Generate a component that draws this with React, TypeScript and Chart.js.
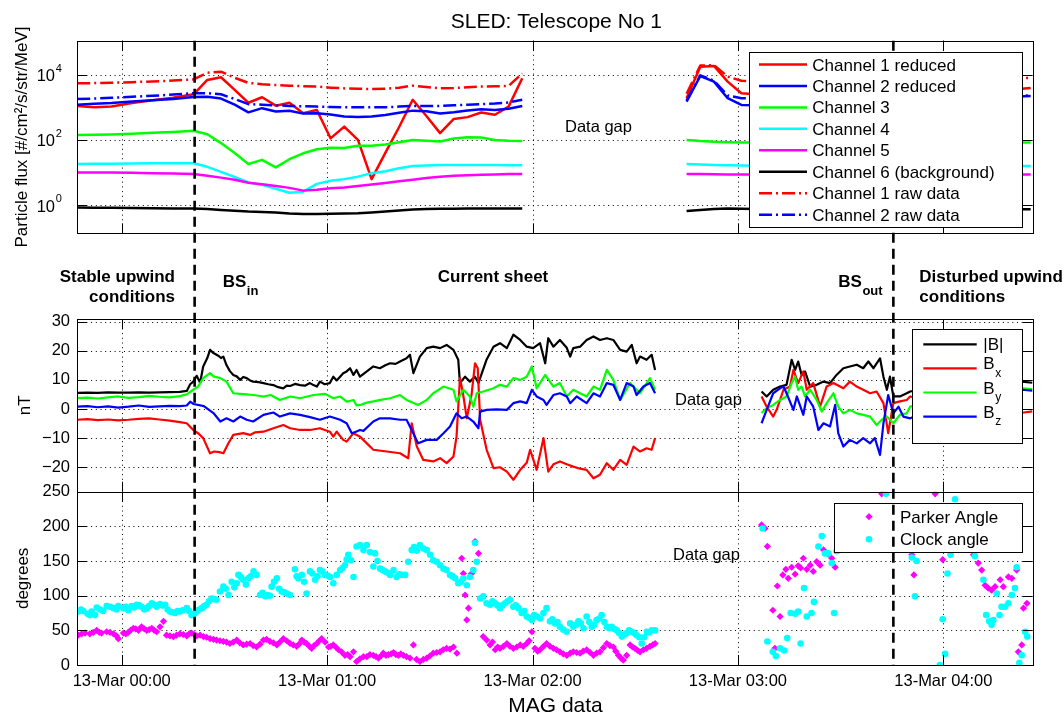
import React, { useEffect, useRef } from 'react';
import { Chart, registerables } from 'chart.js';

Chart.register(...registerables);

const FONT = '"Liberation Sans", Arial, Helvetica, sans-serif';
const W = 1064;
const H = 717;
const PLOT_LEFT = 77;
const PLOT_RIGHT = 1032.7;
const TICK_LEN = 10;
const TIME_AXIS_HEIGHT = 40;

// ---- shared time axis (minutes after 13-Mar 00:00) ----
const timeRange = [-13.06, 266.1];
const hourTicks = [0, 60, 120, 180, 240];
const hourLabels = ['13-Mar 00:00', '13-Mar 01:00', '13-Mar 02:00', '13-Mar 03:00', '13-Mar 04:00'];
const boundaryTimes = [21.3, 225.4]; // bow shock inbound / outbound

// vertical placement of the three panels [top, bottom] in px
const fluxBand = [40.7, 233.3];
const magBand = [319, 491.7];
const angleBand = [491.7, 665];

// ---- SLED telescope 1 fluxes ----
const fluxRange = [0.138, 109650];
const fluxTicks = [1, 100, 10000];
const fluxTimesA = [-13, -8, -3, 3, 9, 15, 21, 25, 29, 33, 37, 41, 45, 49, 53, 57, 61, 65, 69, 73, 77, 81, 85, 89, 93, 97, 101, 105, 109, 113, 117];
const fluxTimesB = [165, 169, 173, 177, 181, 185, 190, 200, 210, 220, 230, 240, 250, 260, 265.5];

const ch1ReducedA = [1100, 1000, 1050, 1350, 1650, 1950, 2500, 6900, 8300, 3400, 1380, 2030, 1120, 1380, 660, 830, 112, 256, 100, 6.3, 40, 245, 1700, 540, 162, 440, 500, 690, 590, 1050, 7760];
const ch1ReducedB = [1900, 17600, 18500, 6100, 2700, 2500, 2400, 2400, 2500, 2600, 2800, 3000, 3200, 3500, 3900];
const ch2ReducedA = [1200, 1280, 1350, 1500, 1650, 1800, 2050, 2100, 1850, 1200, 700, 940, 740, 780, 640, 660, 600, 520, 500, 520, 580, 680, 790, 760, 650, 700, 800, 870, 820, 900, 1100];
const ch2ReducedB = [1490, 9100, 6100, 1900, 1180, 1150, 1150, 1200, 1300, 1400, 1600, 1800, 2000, 2100, 2200];
const ch3A = [142, 145, 148, 155, 165, 175, 190, 150, 80, 40, 18.4, 24.5, 14.4, 25.7, 39, 52, 58, 57, 66, 66, 72, 85, 100, 95, 89, 110, 120, 118, 100, 95, 93];
const ch3B = [100, 92, 88, 85, 83, 84, 85, 85, 85, 85, 85, 84, 84, 83, 83];
const ch4A = [18.4, 18.6, 18.8, 19, 19.2, 19.3, 19.4, 15, 10.5, 7.3, 5, 4.2, 3.2, 2.4, 2.6, 4.5, 5.6, 6.3, 7.5, 9.6, 11, 13.5, 16, 16.5, 17, 17, 17, 17, 17, 16.8, 16.7];
const ch4B = [18.4, 17.8, 17.2, 16.8, 16.5, 16.3, 16.3, 16.2, 16.2, 16.1, 16.1, 16, 16, 16, 16];
const ch5A = [10, 10, 10, 9.8, 9.6, 9.4, 9.1, 8.0, 7.0, 6.0, 4.9, 4.4, 3.9, 3.4, 2.8, 3.0, 3.3, 3.5, 3.9, 4.3, 4.8, 5.4, 6.0, 6.8, 7.5, 8.0, 8.3, 8.6, 8.8, 9.0, 9.1];
const ch5B = [9.1, 9.0, 8.9, 8.8, 8.8, 8.7, 8.7, 8.7, 8.7, 8.7, 8.7, 8.7, 8.7, 8.7, 8.7];
const ch6A = [0.85, 0.84, 0.83, 0.82, 0.81, 0.8, 0.8, 0.76, 0.72, 0.68, 0.64, 0.62, 0.6, 0.56, 0.54, 0.54, 0.55, 0.56, 0.57, 0.6, 0.64, 0.69, 0.74, 0.77, 0.78, 0.78, 0.79, 0.79, 0.79, 0.79, 0.79];
const ch6B = [0.67, 0.72, 0.76, 0.79, 0.78, 0.77, 0.76, 0.76, 0.76, 0.76, 0.76, 0.76, 0.75, 0.75, 0.75];
const ch1RawA = [5450, 5500, 5650, 5900, 6200, 6600, 7200, 11500, 12300, 8000, 5600, 5100, 4800, 4600, 4400, 4300, 4000, 3800, 3700, 3600, 3700, 4000, 4600, 4200, 3800, 3900, 4100, 4300, 4400, 4500, 11000];
const ch1RawB = [2600, 19000, 19500, 8700, 6500, 6100, 6000, 6000, 6200, 6400, 6700, 7000, 7300, 7600, 7900];
const ch2RawA = [1800, 1850, 1950, 2100, 2250, 2450, 2700, 2700, 2500, 1800, 1250, 1200, 1150, 1100, 1080, 1050, 1020, 1000, 1000, 1000, 1000, 1050, 1100, 1100, 1100, 1150, 1200, 1250, 1300, 1400, 1700];
const ch2RawB = [1600, 9500, 6500, 2300, 1900, 1850, 1800, 1800, 1850, 1900, 2000, 2100, 2200, 2250, 2300];

// ---- MAG field components [minute, nT] ----
const magRange = [-28.4, 30.9];
const magTicks = [-20, -10, 0, 10, 20, 30];

const bTotal1 = [[-13, 5.5], [-10, 5.6], [-7, 5.5], [-4, 5.7], [-1, 5.6], [2, 5.6], [5, 5.7], [8, 5.6], [11, 5.7], [14, 5.8], [17, 5.9], [19, 6.2], [20, 8.5], [20.9, 9.4], [21.9, 11.4], [22.9, 9.0], [23.8, 14.6], [25, 17.5], [25.8, 20.3], [26.8, 19.2], [28.2, 18.3], [29, 17.5], [29.7, 18.0], [30.6, 15.1], [31.6, 13.0], [32.6, 11.7], [33.6, 11.2], [34.6, 10.0], [35.5, 11.0], [36.5, 10.6], [37.5, 9.8], [38.4, 9.4], [40, 9.2], [41.4, 8.9], [42.8, 8.5], [44.3, 8.2], [45.7, 7.5], [47.2, 7.1], [48.2, 8.0], [49.2, 7.9], [50.6, 8.6], [52.1, 8.2], [53.5, 8.0], [55, 8.9], [56, 8.2], [57, 7.7], [57.9, 9.4], [59.3, 8.5], [60.8, 8.9], [61.8, 11.1], [62.8, 9.8], [64.7, 12.3], [65.7, 12.9], [66.7, 14.0], [67.7, 11.7], [68.6, 13.4], [69.6, 11.1], [71.6, 12.9], [73.5, 14.6], [75.4, 14.0], [77, 15.0], [78.4, 15.7], [80, 15.5], [81.3, 16.3], [83.2, 17.4], [84.2, 18.6], [85.2, 12.3], [87.1, 18.0], [89.1, 20.9], [91, 21.4], [93, 20.9], [94.9, 22.0], [96.9, 20.3], [98.3, 16.9], [98.8, 8.9], [100.3, 11.1], [101.7, 9.4], [103.2, 11.1], [104.2, 8.9], [105.2, 12.3], [106.6, 17.0], [108.6, 21.4], [110.5, 22.6], [112.5, 20.9], [114.4, 25.5], [116.4, 23.7], [118.3, 21.4], [120.2, 20.9], [122.2, 22.6], [123.7, 15.7], [124.6, 24.3], [126.1, 21.4], [128, 23.7], [130, 21.0], [131, 18.0], [131.9, 20.9], [133.9, 21.4], [135.8, 23.7], [137.8, 24.9], [139.7, 23.7], [141.7, 24.3], [143.6, 23.7], [145.6, 20.3], [147.5, 19.7], [149, 22.0], [150.4, 15.7], [151.4, 18.0], [153.3, 16.9], [154.8, 18.6], [155.8, 13.4]];
const bTotal2 = [[186.9, 6.0], [188.4, 4.3], [190.3, 6.6], [192.3, 7.7], [194.2, 8.3], [195.7, 16.9], [196.7, 13.4], [197.6, 16.3], [198.6, 11.7], [199.6, 12.9], [201.1, 7.7], [203.0, 8.3], [205.0, 9.4], [206.9, 8.9], [208.8, 11.7], [210.8, 14.0], [212.7, 14.6], [214.7, 15.2], [216.6, 14.0], [218.1, 16.3], [219.6, 14.0], [221.5, 17.4], [222.5, 11.1], [223.5, 6.6], [224.4, 11.1], [225.4, 4.3], [227.3, 4.3], [229.3, 5.4], [230.3, 6.0], [235, 7.0], [240, 8.0], [245, 7.2], [250, 8.1], [255, 9.0], [260, 9.8], [263, 9.4], [266, 9.0]];

const bx1 = [[-13, -3.7], [-10, -3.5], [-7, -3.8], [-4, -3.6], [-1, -3.9], [2, -3.7], [5, -3.4], [8, -3.2], [11, -3.6], [14, -4.0], [17, -4.5], [19, -4.9], [20.9, -7.2], [22.5, -8.5], [23.8, -10.0], [25.8, -15.2], [27.0, -14.6], [28.5, -14.8], [29.7, -15.2], [31.2, -11.7], [32.6, -8.9], [35.5, -8.3], [37.5, -8.9], [39.0, -8.0], [41.4, -7.8], [44.3, -6.6], [47.2, -5.5], [49.2, -6.6], [52.1, -7.2], [55.0, -7.2], [57.9, -6.6], [60.8, -7.8], [61.8, -9.5], [62.8, -7.8], [64.7, -10.6], [65.7, -11.2], [67.7, -8.3], [69.6, -9.5], [71.6, -11.8], [73.5, -14.0], [77.4, -14.6], [81.3, -15.2], [83.7, -16.9], [84.7, -4.9], [86.2, -12.9], [88.1, -17.5], [91.0, -18.0], [93.0, -16.9], [94.9, -18.6], [96.9, -16.3], [97.8, -9.5], [98.8, 10.6], [99.6, 6.0], [100.8, -3.2], [102.2, 5.0], [103.2, 15.7], [104.0, 14.0], [104.7, -3.7], [106.6, -14.0], [108.6, -20.3], [110.5, -20.0], [112.5, -21.5], [114.4, -24.3], [116.4, -20.9], [118.3, -18.5], [119.3, -14.0], [121.2, -20.9], [123.2, -10.0], [124.6, -21.5], [126.1, -19.0], [128.0, -18.0], [130.0, -19.0], [131.9, -19.8], [133.9, -20.5], [135.8, -20.9], [137.8, -23.8], [139.7, -22.6], [141.7, -18.6], [143.6, -20.9], [145.6, -17.5], [147.5, -19.2], [149.5, -12.9], [151.4, -14.6], [153.3, -13.5], [154.8, -14.0], [155.8, -10.0]];
const bx2 = [[186.9, 4.3], [188.4, 0.8], [190.3, -2.6], [191.3, -0.3], [193.3, 6.6], [195.2, 7.7], [196.2, 13.4], [197.6, 8.9], [199.1, 12.9], [200.1, 6.6], [202.0, 8.9], [204.0, 0.8], [205.9, 7.7], [207.9, 8.9], [210.8, 7.1], [212.7, 9.4], [214.7, 7.7], [216.6, 6.6], [218.6, 5.4], [220.5, 6.0], [222.5, 2.0], [223.9, -8.3], [225.4, 2.0], [227.3, 2.6], [229.3, 3.1], [230.3, 4.3], [235, 3.0], [240, 2.0], [245, 1.0], [250, 0.0], [255, -1.0], [260, -1.8], [263, -1.3], [266, -0.8]];

const by1 = [[-13, 3.7], [-10, 3.9], [-7, 3.6], [-4, 4.0], [-1, 4.3], [2, 3.8], [5, 4.1], [8, 4.5], [11, 4.2], [14, 4.0], [17, 4.4], [19, 5.0], [20.9, 6.6], [22.3, 7.7], [23.8, 10.6], [25.8, 12.3], [26.8, 11.2], [28.8, 10.6], [30.6, 9.4], [32.6, 5.4], [34.6, 5.2], [36.5, 5.0], [38.4, 4.8], [41.4, 4.3], [43.5, 4.8], [46.2, 3.1], [49.2, 4.3], [52.1, 3.7], [56.0, 4.8], [59.4, 5.2], [61.8, 3.7], [63.8, 4.3], [65.7, 2.5], [67.7, 3.1], [68.6, 1.2], [70.0, 1.5], [71.6, 2.2], [73.5, 2.6], [76.0, 3.2], [78.4, 3.7], [81.3, 4.8], [83.2, 3.1], [86.6, 1.4], [89.1, 3.1], [91.0, 5.4], [94.0, 7.7], [96.9, 6.6], [97.8, 2.6], [99.8, 6.6], [101.7, 4.3], [102.7, 0.8], [103.7, 5.4], [105.6, 6.0], [108.6, 7.1], [110.5, 8.3], [112.5, 7.7], [114.4, 10.6], [116.4, 10.0], [118.3, 11.1], [119.8, 14.6], [121.2, 7.1], [123.7, 11.7], [126.1, 7.7], [128.0, 8.9], [130.0, 4.3], [131.9, 6.6], [133.9, 5.4], [135.8, 4.3], [137.8, 7.7], [139.7, 6.6], [141.7, 13.4], [143.6, 10.0], [145.6, 3.1], [148.5, 8.9], [151.4, 5.4], [154.3, 10.6], [155.8, 6.6]];
const by2 = [[186.9, -1.4], [188.4, 0.3], [190.3, 1.4], [192.3, 3.1], [194.2, 4.3], [195.7, 8.9], [196.7, 11.1], [197.6, 6.6], [198.6, 7.7], [199.6, 4.3], [201.1, 6.6], [203.0, 3.1], [204.5, -0.9], [205.9, 2.0], [207.9, 5.4], [209.3, 0.8], [210.8, -1.5], [212.7, -0.3], [214.7, -1.5], [216.6, -2.0], [218.6, -2.6], [220.5, -5.5], [222.0, -3.7], [223.5, -2.6], [225.4, -4.9], [227.3, -2.0], [229.3, -1.5], [230.3, 0.8], [235, 2.0], [240, 3.0], [245, 4.0], [250, 5.0], [255, 6.0], [260, 6.5], [263, 7.1], [266, 6.8]];

const bz1 = [[-13, 0.8], [-10, 1.0], [-7, 0.6], [-4, 0.9], [-1, 0.5], [2, 0.8], [5, 1.2], [8, 0.7], [11, 0.9], [14, 1.1], [17, 1.0], [19, 1.2], [20.0, 2.5], [21.0, 1.7], [24.0, 1.0], [26.8, -1.4], [28.8, -4.3], [30.6, -3.2], [32.6, -4.3], [34.6, -2.6], [36.5, -3.7], [38.4, -4.3], [41.4, -2.0], [44.3, -1.2], [46.2, -2.6], [49.2, -1.5], [52.1, -2.0], [55.0, -2.8], [57.9, -3.7], [60.8, -2.6], [63.8, -3.7], [65.7, -4.9], [67.2, -8.3], [68.6, -7.7], [69.6, -7.2], [70.6, -7.5], [73.5, -4.3], [75.4, -3.2], [78.4, -3.2], [81.3, -3.7], [83.2, -3.7], [84.7, -7.2], [86.6, -11.8], [89.1, -10.6], [92.0, -10.6], [94.0, -8.3], [95.9, -6.0], [97.8, -1.5], [99.3, -3.2], [100.8, -2.6], [102.7, -4.3], [104.2, -6.6], [104.7, -0.9], [106.6, -0.3], [109.5, -0.1], [112.5, -0.3], [114.4, 2.0], [116.4, 2.6], [118.3, 2.0], [119.8, 6.6], [121.2, 4.3], [123.2, 3.1], [124.1, 1.4], [126.1, 4.8], [128.0, 5.4], [130.0, 4.3], [131.0, 2.0], [132.9, 4.3], [135.8, 2.0], [137.8, 5.4], [139.7, 4.3], [141.7, 8.9], [143.6, 8.3], [145.6, 3.1], [147.5, 8.9], [149.5, 7.7], [150.4, 4.8], [152.4, 7.7], [154.3, 8.9], [155.8, 5.4]];
const bz2 = [[186.9, -4.9], [188.4, -0.3], [190.3, 5.4], [192.3, 7.1], [193.3, 7.7], [194.2, 5.4], [196.2, -0.3], [197.2, 4.3], [199.1, -2.0], [200.1, 4.3], [202.0, 0.8], [203.5, -7.2], [205.0, -4.9], [206.9, -6.0], [208.4, 1.4], [209.3, -8.3], [210.8, -12.9], [212.7, -10.6], [214.7, -11.8], [216.6, -10.0], [218.6, -11.8], [220.0, -10.0], [221.5, -15.8], [222.5, -4.9], [223.9, 4.8], [225.4, -1.5], [226.9, 0.8], [228.3, -2.6], [230.3, -3.2], [235, -1.0], [240, 1.0], [245, 3.0], [250, 4.0], [255, 5.0], [260, 6.0], [263, 6.6], [266, 6.3]];

// ---- field angles [minute, degrees] ----
const angleRange = [0, 250];
const angleTicks = [0, 50, 100, 150, 200, 250];

const parkerAngle = [[-12.7, 43], [-11.7, 45], [-10.7, 46], [-9.3, 45], [-8.3, 47], [-7.3, 50], [-6.5, 47], [-5.9, 46], [-4.4, 48], [-3.4, 47], [-2.4, 45], [-1.5, 42], [-1.0, 38], [0.5, 46], [1.2, 45], [1.9, 47], [2.6, 50], [3.4, 53], [4.1, 52], [4.9, 50], [5.8, 55], [6.6, 52], [7.3, 50], [8.0, 51], [8.8, 53], [9.5, 50], [10.2, 48], [11.2, 55], [12.2, 63], [13.1, 43], [14.1, 42], [15.1, 41], [16.0, 43], [17.0, 45], [18.0, 44], [19.0, 42], [19.7, 45], [20.4, 46], [21.2, 44], [21.9, 42], [22.9, 43], [23.9, 41], [24.8, 40], [25.8, 38], [26.8, 37], [27.7, 36], [28.7, 35], [29.7, 34], [30.6, 33], [31.6, 31], [32.6, 33], [33.6, 36], [34.5, 32], [35.5, 29], [36.5, 30], [37.5, 31], [38.4, 28], [39.4, 26], [40.4, 30], [41.4, 36], [42.3, 37], [43.3, 34], [44.3, 32], [45.3, 29], [46.2, 33], [47.2, 38], [48.2, 35], [49.2, 31], [50.1, 29], [51.1, 27], [51.8, 30], [52.6, 36], [53.3, 33], [54.0, 31], [54.8, 27], [55.5, 24], [56.2, 28], [57.0, 31], [57.7, 35], [58.4, 38], [59.4, 33], [60.4, 26], [61.1, 27], [61.8, 29], [62.5, 26], [63.3, 22], [64.2, 19], [65.2, 14], [66.0, 15], [66.7, 12], [67.7, 19], [68.6, 5], [69.6, 9], [70.6, 12], [71.6, 12], [72.5, 15], [73.5, 14], [74.3, 12], [75.0, 10], [75.7, 13], [76.4, 17], [77.2, 14], [77.9, 15], [78.7, 16], [79.4, 18], [80.1, 15], [80.8, 14], [81.5, 16], [82.3, 14], [83.2, 12], [84.2, 10], [85.2, 29], [86.1, 8], [87.1, 5], [88.1, 8], [89.1, 10], [90.0, 13], [91.0, 17], [92.0, 18], [93.0, 19], [93.9, 22], [94.9, 24], [95.9, 23], [96.9, 26], [97.9, 17], [99.3, 154], [99.8, 132], [100.3, 101], [100.8, 65], [101.3, 82], [102.2, 132], [103.2, 178], [104.2, 161], [105.6, 41], [106.6, 36], [107.6, 29], [108.3, 33], [109.1, 22], [109.8, 26], [110.5, 24], [111.5, 27], [112.5, 31], [113.4, 27], [114.4, 24], [115.4, 26], [116.4, 29], [117.3, 27], [118.3, 31], [119.0, 35], [119.8, 48], [120.7, 24], [121.5, 20], [122.2, 22], [123.2, 27], [124.1, 31], [125.1, 27], [126.1, 24], [127.0, 22], [128.0, 19], [129.0, 16], [130.0, 14], [131.0, 17], [131.9, 19], [132.9, 18], [133.9, 17], [134.8, 20], [135.8, 22], [136.8, 18], [137.8, 14], [138.7, 17], [139.7, 19], [140.7, 25], [141.7, 31], [142.6, 28], [143.6, 26], [144.3, 20], [145.1, 14], [145.8, 10], [146.5, 7], [147.5, 14], [148.5, 29], [149.2, 26], [149.9, 24], [150.7, 21], [151.4, 19], [152.4, 22], [153.3, 24], [154.3, 27], [155.1, 29], [155.8, 31],
  [186.9, 202], [187.9, 197], [188.6, 171], [190.2, 79], [190.8, 24], [191.5, 114], [192.3, 70], [193.1, 130], [194.0, 138], [194.7, 125], [195.7, 141], [196.7, 131], [197.6, 143], [198.3, 140], [199.1, 154], [200.1, 138], [201.1, 144], [202.0, 135], [203.0, 149], [204.0, 144], [205.0, 166], [206.4, 160], [207.4, 154], [208.4, 141], [222.0, 247], [230.8, 159], [231.4, 130], [237.6, 247], [239.8, 152], [248.8, 159], [250.2, 147], [251.2, 137], [252.2, 115], [253.1, 111], [254.1, 108], [255.1, 113], [256.6, 123], [257.5, 113], [259.0, 127], [260.0, 125], [261.4, 137], [261.9, 19], [262.9, 29], [263.4, 82], [264.4, 89]];

const clockAngle = [[-12.7, 77], [-11.9, 80], [-11.2, 78], [-10.0, 74], [-9.3, 72], [-8.8, 77], [-7.8, 72], [-7.3, 83], [-6.3, 80], [-5.4, 78], [-4.4, 85], [-3.4, 84], [-2.4, 82], [-1.5, 80], [-1.0, 85], [0.5, 82], [1.2, 84], [1.9, 79], [2.9, 85], [3.6, 83], [4.4, 87], [5.1, 86], [5.8, 84], [6.6, 80], [7.3, 82], [8.0, 85], [8.8, 89], [9.5, 87], [10.2, 84], [11.2, 88], [11.9, 86], [12.7, 87], [13.4, 80], [14.1, 77], [14.8, 76], [15.6, 75], [16.3, 78], [17.0, 77], [17.8, 79], [19.0, 82], [19.7, 78], [20.4, 72], [21.2, 74], [21.9, 77], [22.6, 80], [23.4, 82], [24.1, 85], [24.8, 87], [25.5, 92], [26.3, 96], [27.0, 95], [27.7, 94], [28.7, 106], [29.7, 113], [30.4, 110], [31.2, 101], [32.1, 120], [32.9, 112], [33.6, 118], [34.1, 130], [34.8, 127], [35.5, 123], [36.3, 116], [37.0, 125], [37.7, 128], [38.5, 135], [39.4, 130], [40.4, 101], [41.1, 104], [41.9, 99], [42.6, 101], [43.3, 100], [43.8, 113], [44.5, 120], [45.3, 125], [46.0, 110], [46.7, 106], [47.5, 105], [48.2, 103], [49.2, 101], [50.6, 138], [51.1, 128], [51.6, 125], [52.6, 130], [53.3, 120], [54.0, 103], [55.0, 135], [55.7, 132], [56.5, 123], [57.2, 128], [57.9, 137], [58.6, 135], [59.4, 130], [60.1, 129], [60.9, 127], [61.8, 118], [62.8, 130], [63.8, 137], [64.5, 140], [65.2, 144], [65.7, 152], [66.2, 159], [67.0, 151], [67.7, 127], [68.6, 171], [69.6, 173], [70.6, 166], [71.6, 173], [72.5, 163], [73.5, 142], [74.0, 161], [74.7, 150], [75.5, 139], [76.2, 137], [76.9, 135], [77.7, 133], [78.4, 130], [79.4, 137], [80.3, 127], [81.0, 131], [81.8, 130], [82.8, 130], [83.7, 149], [84.7, 166], [85.4, 170], [86.2, 165], [87.1, 173], [88.1, 168], [89.1, 166], [90.1, 159], [91.0, 151], [92.0, 149], [93.0, 144], [94.0, 139], [94.9, 137], [95.9, 130], [96.6, 128], [97.4, 125], [98.3, 118], [99.1, 120], [99.8, 125], [100.8, 115], [101.7, 127], [102.7, 137], [103.2, 176], [103.7, 149], [104.7, 96], [105.6, 99], [106.6, 89], [107.6, 87], [108.3, 92], [109.1, 89], [109.8, 86], [110.5, 82], [111.2, 86], [112.0, 89], [112.7, 92], [113.4, 94], [114.4, 84], [115.1, 86], [115.9, 82], [116.8, 75], [117.6, 78], [118.3, 70], [119.0, 68], [119.8, 65], [120.5, 72], [121.2, 70], [122.2, 67], [123.2, 75], [124.1, 82], [125.1, 63], [125.8, 66], [126.6, 60], [127.3, 62], [128.0, 55], [129.0, 51], [130.0, 48], [131.0, 60], [131.9, 55], [132.7, 58], [133.4, 63], [134.1, 60], [134.9, 53], [135.8, 70], [136.6, 62], [137.3, 55], [138.0, 58], [138.7, 65], [139.5, 67], [140.2, 72], [141.0, 62], [141.7, 55], [142.4, 53], [143.1, 55], [143.9, 52], [144.6, 50], [145.3, 46], [146.1, 41], [146.8, 44], [147.5, 46], [148.2, 50], [149.0, 48], [149.7, 46], [150.4, 43], [151.2, 40], [151.9, 31], [152.6, 40], [153.4, 48], [154.1, 47], [154.8, 50], [155.8, 50],
  [187.2, 197], [188.6, 34], [190.2, 19], [191.1, 13], [192.3, 24], [193.5, 21], [194.4, 39], [195.4, 75], [196.7, 74], [197.6, 77], [198.3, 31], [199.3, 111], [200.1, 70], [201.5, 75], [202.2, 91], [203.5, 171], [204.5, 186], [205.4, 161], [206.4, 161], [207.4, 147], [208.1, 75], [208.8, 164], [223.2, 247], [230.8, 155], [231.7, 99], [232.2, 150], [239.0, 0], [239.8, 66], [240.5, 16], [241.2, 132], [242.1, 159], [243.4, 239], [249.2, 157], [251.7, 123], [252.5, 72], [253.4, 63], [254.1, 58], [254.6, 65], [255.6, 103], [256.4, 72], [257.0, 84], [258.0, 84], [259.0, 89], [260.0, 101], [260.9, 111], [261.4, 141], [262.2, 3], [262.9, 14], [263.9, 48], [264.5, 41]];

// ---- styling ----
const RED = '#ff0000';
const BLUE = '#0000ff';
const GREEN = '#00ff00';
const CYAN = '#00ffff';
const MAGENTA = '#ff00ff';
const BLACK = '#000000';
const SOLID: number[] = [];
const DASH_DOT = [13, 4, 2, 4];

type Pt = { x: number; y: number | null };
const zipSeries = (ts: number[], vs: number[]): Pt[] => ts.map((t, i) => ({ x: t, y: vs[i] }));
const fromPairs = (p: number[][]): Pt[] => p.map(([x, y]) => ({ x, y }));
const withGap = (a: Pt[], b: Pt[]): Pt[] => [...a, { x: (a[a.length - 1].x + b[0].x) / 2, y: null }, ...b];

const fluxSeries = [
  { label: 'Channel 1 reduced', color: RED, dash: SOLID, a: ch1ReducedA, b: ch1ReducedB },
  { label: 'Channel 2 reduced', color: BLUE, dash: SOLID, a: ch2ReducedA, b: ch2ReducedB },
  { label: 'Channel 3', color: GREEN, dash: SOLID, a: ch3A, b: ch3B },
  { label: 'Channel 4', color: CYAN, dash: SOLID, a: ch4A, b: ch4B },
  { label: 'Channel 5', color: MAGENTA, dash: SOLID, a: ch5A, b: ch5B },
  { label: 'Channel 6 (background)', color: BLACK, dash: SOLID, a: ch6A, b: ch6B },
  { label: 'Channel 1 raw data', color: RED, dash: DASH_DOT, a: ch1RawA, b: ch1RawB },
  { label: 'Channel 2 raw data', color: BLUE, dash: DASH_DOT, a: ch2RawA, b: ch2RawB },
];

const magSeries = [
  { main: '|B|', sub: '', color: BLACK, a: bTotal1, b: bTotal2 },
  { main: 'B', sub: 'x', color: RED, a: bx1, b: bx2 },
  { main: 'B', sub: 'y', color: GREEN, a: by1, b: by2 },
  { main: 'B', sub: 'z', color: BLUE, a: bz1, b: bz2 },
];

const angleSeries = [
  { label: 'Parker Angle', color: MAGENTA, style: 'rectRot', radius: 3.6, data: parkerAngle },
  { label: 'Clock angle', color: CYAN, style: 'circle', radius: 3.3, data: clockAngle },
];

// ---- drawing helpers ----
function font(size: number, bold = false) {
  return `${bold ? 'bold ' : ''}${size}px ${FONT}`;
}

function drawText(ctx: any, s: string, x: number, y: number, size: number, align = 'left', bold = false) {
  ctx.save();
  ctx.font = font(size, bold);
  ctx.fillStyle = '#000';
  ctx.textAlign = align;
  ctx.textBaseline = 'alphabetic';
  ctx.fillText(s, x, y);
  ctx.restore();
}

function drawSubText(ctx: any, main: string, sub: string, x: number, y: number, size: number, subSize: number, drop: number, bold = false) {
  ctx.save();
  ctx.font = font(size, bold);
  ctx.fillStyle = '#000';
  ctx.textAlign = 'left';
  ctx.textBaseline = 'alphabetic';
  ctx.fillText(main, x, y);
  const w = ctx.measureText(main).width;
  ctx.font = font(subSize, bold);
  ctx.fillText(sub, x + w + 0.5, y + drop);
  ctx.restore();
}

function drawRotated(ctx: any, s: string, x: number, y: number, size: number) {
  ctx.save();
  ctx.translate(x, y);
  ctx.rotate(-Math.PI / 2);
  ctx.font = font(size);
  ctx.fillStyle = '#000';
  ctx.textAlign = 'center';
  ctx.textBaseline = 'alphabetic';
  ctx.fillText(s, 0, 0);
  ctx.restore();
}

function legendBox(ctx: any, x0: number, y0: number, x1: number, y1: number) {
  ctx.save();
  ctx.fillStyle = '#fff';
  ctx.fillRect(x0, y0, x1 - x0, y1 - y0);
  ctx.strokeStyle = '#000';
  ctx.lineWidth = 1;
  ctx.setLineDash([]);
  ctx.strokeRect(Math.round(x0) + 0.5, Math.round(y0) + 0.5, Math.round(x1 - x0), Math.round(y1 - y0));
  ctx.restore();
}

function drawGrid(chart: any, yGrid: number[]) {
  const { ctx, chartArea: a } = chart;
  const xs = chart.scales.x;
  const ys = chart.scales.y;
  ctx.save();
  ctx.strokeStyle = '#000';
  ctx.lineWidth = 1;
  ctx.setLineDash([1, 3.7]);
  ctx.beginPath();
  for (const t of hourTicks) {
    const px = Math.round(xs.getPixelForValue(t)) + 0.5;
    ctx.moveTo(px, a.top);
    ctx.lineTo(px, a.bottom);
  }
  for (const v of yGrid) {
    const py = Math.round(ys.getPixelForValue(v)) + 0.5;
    ctx.moveTo(a.left, py);
    ctx.lineTo(a.right, py);
  }
  ctx.stroke();
  ctx.restore();
}

function drawFrame(chart: any, yGrid: number[]) {
  const { ctx, chartArea: a } = chart;
  const xs = chart.scales.x;
  const ys = chart.scales.y;
  ctx.save();
  ctx.strokeStyle = '#000';
  ctx.lineWidth = 1;
  ctx.setLineDash([]);
  ctx.beginPath();
  for (const t of hourTicks) {
    const px = Math.round(xs.getPixelForValue(t)) + 0.5;
    ctx.moveTo(px, a.bottom);
    ctx.lineTo(px, a.bottom - TICK_LEN);
    ctx.moveTo(px, a.top);
    ctx.lineTo(px, a.top + TICK_LEN);
  }
  for (const v of yGrid) {
    const py = Math.round(ys.getPixelForValue(v)) + 0.5;
    ctx.moveTo(a.left, py);
    ctx.lineTo(a.left + TICK_LEN, py);
    ctx.moveTo(a.right, py);
    ctx.lineTo(a.right - TICK_LEN, py);
  }
  ctx.stroke();
  const l = Math.round(a.left) + 0.5;
  const t = Math.round(a.top) + 0.5;
  ctx.strokeRect(l, t, Math.round(a.right) - Math.round(a.left), Math.round(a.bottom) - Math.round(a.top));
  ctx.restore();
}

function panelPlugin(yGrid: number[], decorate: (chart: any) => void) {
  return {
    id: 'panelFrame',
    beforeDatasetsDraw(chart: any) {
      drawGrid(chart, yGrid);
    },
    afterDatasetsDraw(chart: any) {
      drawFrame(chart, yGrid);
    },
    afterDraw(chart: any) {
      decorate(chart);
    },
  };
}

// numbers use a true minus sign
const numberLabel = (v: number) => (v < 0 ? '\u2212' + String(-v) : String(v));

function panelOptions(band: number[], y: any, showTime: boolean) {
  const tickFont = { family: FONT, size: 16.5 };
  const axisHeight = showTime ? TIME_AXIS_HEIGHT : 0;
  return {
    responsive: false,
    maintainAspectRatio: false,
    animation: false,
    devicePixelRatio: 1,
    events: [],
    layout: { padding: { left: 0, right: W - PLOT_RIGHT, top: band[0], bottom: H - band[1] - axisHeight } },
    plugins: { legend: { display: false }, tooltip: { enabled: false }, title: { display: false } },
    scales: {
      x: {
        type: 'linear',
        min: timeRange[0],
        max: timeRange[1],
        afterBuildTicks: (s: any) => {
          s.ticks = hourTicks.map((value) => ({ value }));
        },
        afterFit: (s: any) => {
          s.height = axisHeight;
        },
        grid: { display: false, drawTicks: false },
        border: { display: false },
        ticks: {
          display: showTime,
          padding: 7,
          maxRotation: 0,
          autoSkip: false,
          color: '#000',
          font: tickFont,
          callback: (v: number) => hourLabels[hourTicks.indexOf(v)] ?? '',
        },
      },
      y: {
        ...y,
        afterFit: (s: any) => {
          s.width = PLOT_LEFT;
        },
        grid: { display: false, drawTicks: false },
        border: { display: false },
        ticks: {
          display: y.type !== 'logarithmic',
          padding: 7,
          autoSkip: false,
          color: '#000',
          font: tickFont,
          callback: (v: number) => numberLabel(v),
        },
      },
    },
  };
}

// ---- panel: particle flux (also carries the figure-wide annotations) ----
function fluxConfig(): any {
  const datasets = fluxSeries
    .map((s) => ({
      type: 'line',
      label: s.label,
      data: withGap(zipSeries(fluxTimesA, s.a), zipSeries(fluxTimesB, s.b)),
      borderColor: s.color,
      backgroundColor: s.color,
      borderWidth: 2.5,
      borderDash: s.dash,
      borderJoinStyle: 'round',
      pointRadius: 0,
      tension: 0,
      spanGaps: false,
      fill: false,
    }))
    .reverse();

  const decorate = (chart: any) => {
    const { ctx } = chart;
    const ys = chart.scales.y;
    const xs = chart.scales.x;

    // log tick labels as 10 with raised exponent
    for (const v of fluxTicks) {
      const py = ys.getPixelForValue(v);
      ctx.save();
      ctx.fillStyle = '#000';
      ctx.font = font(16.5);
      ctx.textAlign = 'right';
      ctx.fillText('10', 55, py + 6.5);
      ctx.font = font(11);
      ctx.textAlign = 'left';
      ctx.fillText(String(Math.round(Math.log10(v))), 55.8, py - 2.8);
      ctx.restore();
    }

    drawRotated(ctx, 'Particle flux [#/cm\u00b2/s/str/MeV]', 26.7, (fluxBand[0] + fluxBand[1]) / 2, 17);
    drawText(ctx, 'SLED: Telescope No 1', (PLOT_LEFT + PLOT_RIGHT) / 2 + 1.5, 28, 21, 'center');
    drawText(ctx, 'Data gap', 565, 132, 16.5);

    // region annotations between the flux and field panels
    drawText(ctx, 'Stable upwind', 175, 281.5, 17, 'right', true);
    drawText(ctx, 'conditions', 175, 301.5, 17, 'right', true);
    drawSubText(ctx, 'BS', 'in', 222.7, 287.3, 17, 13, 8, true);
    drawText(ctx, 'Current sheet', 493, 281.5, 17, 'center', true);
    drawSubText(ctx, 'BS', 'out', 838.3, 287.3, 17, 13, 8, true);
    drawText(ctx, 'Disturbed upwind', 919.3, 281.5, 17, 'left', true);
    drawText(ctx, 'conditions', 919.3, 301.5, 17, 'left', true);

    // bow-shock crossings through all panels
    ctx.save();
    ctx.strokeStyle = '#000';
    ctx.lineWidth = 2.6;
    ctx.setLineDash([10, 6]);
    ctx.beginPath();
    for (const t of boundaryTimes) {
      const px = xs.getPixelForValue(t);
      ctx.moveTo(px, fluxBand[0]);
      ctx.lineTo(px, angleBand[1]);
    }
    ctx.stroke();
    ctx.restore();

    // legend
    legendBox(ctx, 749, 51.7, 1022, 227);
    fluxSeries.forEach((s, i) => {
      const y = 64.5 + i * 21.45;
      ctx.save();
      ctx.strokeStyle = s.color;
      ctx.lineWidth = 2.5;
      ctx.setLineDash(s.dash);
      ctx.beginPath();
      ctx.moveTo(759, y);
      ctx.lineTo(807, y);
      ctx.stroke();
      ctx.restore();
      drawText(ctx, s.label, 812.3, y + 6, 17);
    });
  };

  return {
    type: 'line',
    data: { datasets },
    options: panelOptions(fluxBand, { type: 'logarithmic', min: fluxRange[0], max: fluxRange[1], afterBuildTicks: (s: any) => { s.ticks = fluxTicks.map((value) => ({ value })); } }, false),
    plugins: [panelPlugin(fluxTicks, decorate)],
  };
}

// ---- panel: magnetic field ----
function magConfig(): any {
  const datasets = magSeries
    .map((s) => ({
      type: 'line',
      label: s.main + s.sub,
      data: withGap(fromPairs(s.a), fromPairs(s.b)),
      borderColor: s.color,
      backgroundColor: s.color,
      borderWidth: 2.2,
      borderJoinStyle: 'round',
      pointRadius: 0,
      tension: 0,
      spanGaps: false,
      fill: false,
    }))
    .reverse();

  const decorate = (chart: any) => {
    const { ctx } = chart;
    drawRotated(ctx, 'nT', 30, (magBand[0] + magBand[1]) / 2, 17);
    drawText(ctx, 'Data gap', 675, 405, 16.5);

    legendBox(ctx, 912, 329, 1022, 443);
    magSeries.forEach((s, i) => {
      const y = 344.3 + i * 24.1;
      ctx.save();
      ctx.strokeStyle = s.color;
      ctx.lineWidth = 2.2;
      ctx.setLineDash([]);
      ctx.beginPath();
      ctx.moveTo(923.3, y);
      ctx.lineTo(976.7, y);
      ctx.stroke();
      ctx.restore();
      if (s.sub) drawSubText(ctx, s.main, s.sub, 983.3, y + 1, 17, 12, 7.5);
      else drawText(ctx, s.main, 983.3, y + 6, 17);
    });
  };

  return {
    type: 'line',
    data: { datasets },
    options: panelOptions(magBand, { type: 'linear', min: magRange[0], max: magRange[1], afterBuildTicks: (s: any) => { s.ticks = magTicks.map((value) => ({ value })); } }, false),
    plugins: [panelPlugin(magTicks, decorate)],
  };
}

// ---- panel: Parker and clock angles ----
function angleConfig(): any {
  const datasets = angleSeries
    .map((s) => ({
      type: 'scatter',
      label: s.label,
      data: fromPairs(s.data),
      pointStyle: s.style,
      pointRadius: s.radius,
      pointBorderWidth: 0,
      backgroundColor: s.color,
      borderColor: s.color,
      showLine: false,
    }))
    .reverse();

  const decorate = (chart: any) => {
    const { ctx } = chart;
    drawRotated(ctx, 'degrees', 28, (angleBand[0] + angleBand[1]) / 2, 17);
    drawText(ctx, 'Data gap', 673, 560, 16.5);
    drawText(ctx, 'MAG data', 555.5, 712, 21, 'center');

    legendBox(ctx, 834, 502.7, 1022, 552);
    angleSeries.forEach((s, i) => {
      const y = 516.7 + i * 22.6;
      const x = 869;
      ctx.save();
      ctx.fillStyle = s.color;
      ctx.beginPath();
      if (s.style === 'rectRot') {
        const r = s.radius;
        ctx.moveTo(x - r, y);
        ctx.lineTo(x, y - r);
        ctx.lineTo(x + r, y);
        ctx.lineTo(x, y + r);
        ctx.closePath();
      } else {
        ctx.arc(x, y, s.radius, 0, Math.PI * 2);
      }
      ctx.fill();
      ctx.restore();
      drawText(ctx, s.label, 900, y + 6, 17);
    });
  };

  return {
    type: 'scatter',
    data: { datasets },
    options: panelOptions(angleBand, { type: 'linear', min: angleRange[0], max: angleRange[1], afterBuildTicks: (s: any) => { s.ticks = angleTicks.map((value) => ({ value })); } }, true),
    plugins: [panelPlugin(angleTicks, decorate)],
  };
}

const layerStyle: React.CSSProperties = { position: 'absolute', left: 0, top: 0 };

export default function App() {
  const angleRef = useRef<HTMLCanvasElement>(null);
  const magRef = useRef<HTMLCanvasElement>(null);
  const fluxRef = useRef<HTMLCanvasElement>(null);

  useEffect(() => {
    const charts: Chart[] = [];
    if (angleRef.current) charts.push(new Chart(angleRef.current, angleConfig()));
    if (magRef.current) charts.push(new Chart(magRef.current, magConfig()));
    if (fluxRef.current) charts.push(new Chart(fluxRef.current, fluxConfig()));
    return () => charts.forEach((c) => c.destroy());
  }, []);

  return (
    <div style={{ position: 'absolute', left: 0, top: 0, width: W, height: H, background: '#fff', overflow: 'hidden' }}>
      <canvas ref={angleRef} width={W} height={H} style={layerStyle} />
      <canvas ref={magRef} width={W} height={H} style={layerStyle} />
      <canvas ref={fluxRef} width={W} height={H} style={layerStyle} />
    </div>
  );
}
